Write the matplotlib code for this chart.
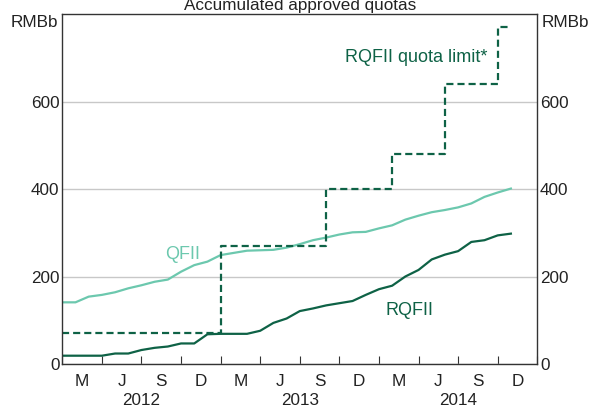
import matplotlib
matplotlib.use("Agg")
import matplotlib.pyplot as plt
import numpy as np

plt.rcParams['font.family'] = ['Liberation Sans', 'DejaVu Sans']

# monthly data, Jan 2012 onwards (RMB billion)
qfii = [141, 141, 154, 158, 164, 173, 180, 188, 193, 211, 226, 234,
        249, 254, 259, 260, 261, 266, 274, 283, 289, 296, 301, 302,
        310, 317, 330, 339, 347, 352, 358, 367, 382, 392, 401]
rqfii = [19, 19, 19, 19, 24, 24, 32, 37, 40, 47, 47, 68,
         69, 69, 69, 76, 94, 104, 121, 127, 134, 139, 144, 158,
         171, 179, 200, 215, 239, 250, 258, 279, 283, 294, 298]
limit = [70] * 12 + [270] * 8 + [400] * 5 + [480] * 4 + [640] * 4 + [770] * 2
quarter_labels = ['M', 'J', 'S', 'D'] * 3
years = ['2012', '2013', '2014']

light = '#6cc8ae'
dark = '#0e6246'
txt = '#222222'
fs = 12.3

months = np.arange(len(qfii))

fig = plt.figure(figsize=(5.91, 4.08), dpi=100)
ax = fig.add_axes([0.1054, 0.1078, 0.8037, 0.8579])

ax.plot(months, qfii, color=light, lw=1.6)
ax.plot(months, rqfii, color=dark, lw=1.6)
ax.plot(months, limit, color=dark, lw=1.6, ls=(0, (3.2, 1.8)), drawstyle='steps-post')

ax.set_xlim(0, 36)
ax.set_ylim(0, 800)
ax.set_yticks([0, 200, 400, 600])
ax.yaxis.grid(True, color='#c8c8c8', lw=1)
ax.set_axisbelow(True)
ax.tick_params(axis='y', length=0, labelsize=fs, pad=2, labelright=True, colors=txt)

ax.set_xticks(np.arange(0, 37, 3))
ax.set_xticklabels([])
ax.tick_params(axis='x', direction='in', length=6, color='#333333')
for i, lab in enumerate(quarter_labels):
    ax.text(i * 3 + 1.5, -39, lab, ha='center', va='center', fontsize=fs, color=txt)
for i, y in enumerate(years):
    ax.text(i * 12 + 6, -83, y, ha='center', va='center', fontsize=fs, color=txt)

for s in ax.spines.values():
    s.set_color('#333333')
    s.set_linewidth(1)

ax.text(-0.3, 780, 'RMBb', ha='right', va='center', fontsize=fs, color=txt)
ax.text(36.3, 780, 'RMBb', ha='left', va='center', fontsize=fs, color=txt)

ax.text(9.1, 251, 'QFII', ha='center', va='center', fontsize=13, color=light)
ax.text(26.3, 123, 'RQFII', ha='center', va='center', fontsize=13, color=dark)
ax.text(26.8, 700, 'RQFII quota limit*', ha='center', va='center', fontsize=13, color=dark)

ax.set_title('Accumulated approved quotas', fontsize=fs, pad=3, color=txt)

fig.savefig('out.png', dpi=100)
